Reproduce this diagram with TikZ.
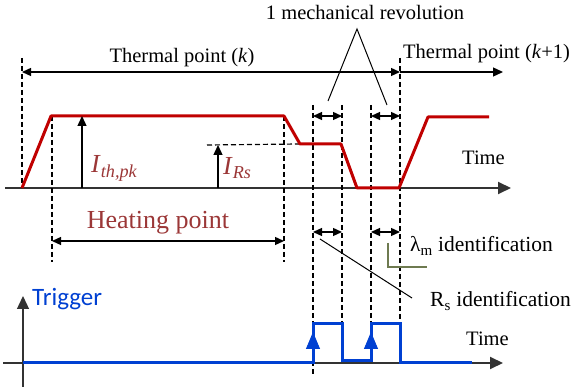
\documentclass[tikz,border=0pt]{standalone}
\usepackage{fontspec}
\setmainfont{Liberation Serif}
\newfontfamily\trigfont{Carlito}
\definecolor{traceRed}{RGB}{192,0,0}
\definecolor{labelRed}{RGB}{155,55,55}
\definecolor{trigBlue}{RGB}{0,64,210}
\definecolor{noteOlive}{RGB}{110,122,80}
\usetikzlibrary{arrows.meta,calc}
\tikzset{
  axisline/.style={line width=2pt, draw=black!80, -{Triangle[length=13pt,width=12pt]}},
  guide/.style={line width=1.2pt, dash pattern=on 5pt off 3pt},
  span/.style={line width=1.3pt, {Triangle[length=9pt,width=8pt]}-{Triangle[length=9pt,width=8pt]}},
  level/.style={line width=1.3pt, -{Triangle[length=10pt,width=9pt]}},
  lbl/.style={font=\fontsize{20.5}{24}\selectfont, inner sep=0pt, anchor=base west},
  idlbl/.style={lbl, font=\fontsize{21.5}{24}\selectfont},
  curlbl/.style={lbl, font=\fontsize{26}{30}\selectfont, text=labelRed},
}

\begin{document}
\begin{tikzpicture}[x=1pt,y=-1pt]
  \useasboundingbox (0,0) rectangle (574,387);

  % current axis and trace
  \coordinate (ax1) at (5,188);
  \coordinate (ax1end) at (511,188);
  \draw[axisline] (ax1) -- (ax1end);
  \coordinate (r0) at (22,188);
  \coordinate (r1) at (51,116);
  \coordinate (r2) at (284,116);
  \coordinate (r3) at (300,144);
  \coordinate (r4) at (341,144);
  \coordinate (r5) at (357,188);
  \coordinate (r6) at (399,188);
  \coordinate (r7) at (428,117);
  \coordinate (r8) at (489,117);

  % guides
  \foreach \gx/\gtop/\gbot in {22/58/188, 52/116/262, 284/116/262, 313/105/375,
                               342/105/324, 371/105/324, 400/58/324} {
    \draw[guide] (\gx,\gtop) -- (\gx,\gbot);
  }
  \draw[guide] (207,145) -- (r3);

  \draw[traceRed, line width=3pt, line join=round]
    (r0) -- (r1) -- (r2) -- (r3) -- (r4) -- (r5) -- (r6) -- (r7) -- (r8);

  % thermal points
  \coordinate (tk0) at (22,72);
  \coordinate (tk1) at (400,72);
  \coordinate (tk2) at (503,72);
  \draw[span] (tk0) -- (tk1);
  \draw[line width=1.3pt, -{Triangle[length=10pt,width=9pt]}] (tk1) -- (tk2);
  \node[lbl, anchor=base] (thk) at (182,63) {Thermal point (\textit{k})};
  \node[lbl] (thk1) at (403,59) {Thermal point (\textit{k}+1)};

  % mechanical revolution
  \node[lbl, anchor=base] (mech) at (365,20) {1 mechanical revolution};
  \coordinate (apex) at (357,29);
  \coordinate (revA) at (328,101);
  \coordinate (revB) at (387,105);
  \draw[line width=1pt] (revA) -- (apex) -- (revB);
  \coordinate (wa0) at (313,116);
  \coordinate (wa1) at (342,116);
  \coordinate (wb0) at (371,116);
  \coordinate (wb1) at (400,116);
  \draw[span] (wa0) -- (wa1);
  \draw[span] (wb0) -- (wb1);

  % current levels
  \coordinate (ipk0) at (82,188);
  \coordinate (ipk1) at (82,116);
  \draw[level] (ipk0) -- (ipk1);
  \node[curlbl] (ipk) at (91,173) {\textit{I}\textsubscript{\textit{th,pk}}};
  \coordinate (irs0) at (218,188);
  \coordinate (irs1) at (218,145);
  \draw[level] (irs0) -- (irs1);
  \node[curlbl] (irs) at (223,175) {\textit{I}\textsubscript{\textit{Rs}}};
  \node[lbl] (time1) at (462,165) {Time};

  % heating point
  \coordinate (hp0) at (52,241);
  \coordinate (hp1) at (284,241);
  \draw[span] (hp0) -- (hp1);
  \node[curlbl, anchor=base] (heat) at (158,229) {Heating point};

  % identification windows
  \coordinate (ia0) at (313,232);
  \coordinate (ia1) at (342,232);
  \coordinate (ib0) at (371,232);
  \coordinate (ib1) at (400,232);
  \draw[span] (ia0) -- (ia1);
  \draw[span] (ib0) -- (ib1);
  \node[idlbl] (lam) at (410,252) {λ\textsubscript{m} identification};
  \node[idlbl] (rsid) at (430,307) {R\textsubscript{s} identification};
  \coordinate (rsA) at (320,239);
  \coordinate (rsB) at (412,298);
  \draw[line width=1pt] (rsA) -- (rsB);
  \coordinate (lmA) at (388,243);
  \coordinate (lmB) at (388,267);
  \coordinate (lmC) at (427,267);
  \draw[noteOlive, line width=1.2pt] (lmA) -- (lmB) -- (lmC);

  % trigger
  \coordinate (ax2) at (3,363);
  \coordinate (ax2end) at (503,363);
  \coordinate (ay2) at (23,387);
  \coordinate (ay2end) at (23,296);
  \draw[axisline] (ax2) -- (ax2end);
  \draw[axisline, line width=1.3pt] (ay2) -- (ay2end);
  \node[lbl, font=\trigfont\fontsize{25}{28}\selectfont, text=trigBlue] (trig) at (32,306) {Trigger};
  \node[lbl] (time2) at (466,346) {Time};
  \coordinate (b0) at (23,363);
  \coordinate (b1) at (313,363);
  \coordinate (b2) at (313,324);
  \coordinate (b3) at (342,324);
  \coordinate (b4) at (342,361);
  \coordinate (b5) at (371,361);
  \coordinate (b6) at (371,324);
  \coordinate (b7) at (400,324);
  \coordinate (b8) at (400,363);
  \coordinate (b9) at (472,363);
  \draw[trigBlue, line width=3pt]
    (b0) -- (b1) -- (b2) -- (b3) -- (b4) -- (b5) -- (b6) -- (b7) -- (b8) -- (b9);
  \foreach \ex in {313,371} {
    \draw[trigBlue, line width=1pt, -{Triangle[length=17pt,width=14pt]}] (\ex,351) -- (\ex,332);
  }
\end{tikzpicture}
\end{document}
